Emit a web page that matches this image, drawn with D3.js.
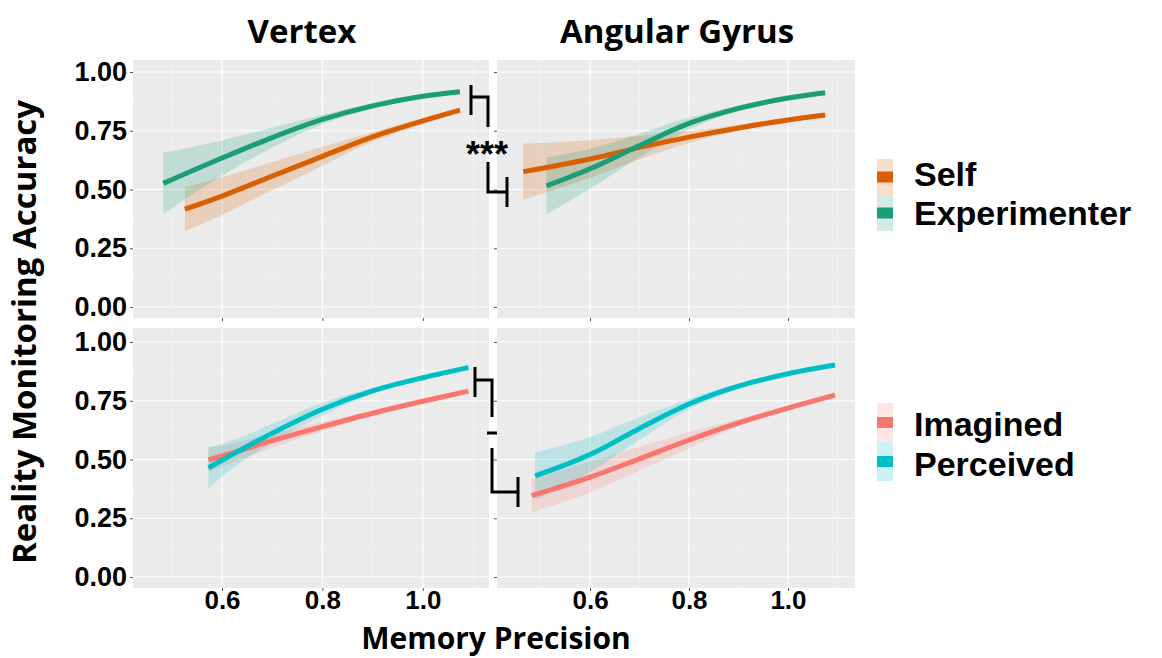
<!DOCTYPE html>
<html>
<head>
<meta charset="utf-8">
<script src="https://cdn.jsdelivr.net/npm/d3@7"></script>
<style>
  body { margin: 0; background: #fff; }
  svg { display: block; }
</style>
</head>
<body>
<div id="chart"></div>
<script>
// ---- data ----
const panelTitles = ["Vertex", "Angular Gyrus"];
const xTicks = [0.6, 0.8, 1.0];
const yTicks = [0, 0.25, 0.5, 0.75, 1.0];
const yTickLabels = ["0.00", "0.25", "0.50", "0.75", "1.00"];
const sourceLevels = ["Self", "Experimenter"];
const typeLevels = ["Imagined", "Perceived"];

// Vertex: Self vs Experimenter
const vSelfX = [0.526, 0.6, 0.7, 0.8, 0.9, 1.0, 1.074];
const vSelfY = [0.416, 0.472, 0.557, 0.641, 0.724, 0.792, 0.838];
const vSelfHalf = [0.094, 0.08, 0.06, 0.04, 0.02, 0.012, 0.01];
const vExpX = [0.483, 0.6, 0.7, 0.8, 0.9, 1.0, 1.074];
const vExpY = [0.526, 0.634, 0.721, 0.798, 0.856, 0.897, 0.916];
const vExpHalf = [0.13, 0.075, 0.042, 0.02, 0.012, 0.01, 0.01];

// Angular Gyrus: Self vs Experimenter
const agSelfX = [0.465, 0.6, 0.7, 0.8, 0.9, 1.0, 1.075];
const agSelfY = [0.576, 0.630, 0.679, 0.723, 0.762, 0.796, 0.817];
const agSelfHalf = [0.12, 0.08, 0.05, 0.025, 0.012, 0.01, 0.01];
const agExpX = [0.512, 0.6, 0.7, 0.8, 0.9, 1.0, 1.075];
const agExpY = [0.515, 0.588, 0.687, 0.781, 0.845, 0.889, 0.912];
const agExpHalf = [0.121, 0.085, 0.05, 0.025, 0.012, 0.01, 0.01];

// Vertex: Imagined vs Perceived
const vImgX = [0.573, 0.6, 0.7, 0.8, 0.9, 1.0, 1.091];
const vImgY = [0.498, 0.515, 0.580, 0.640, 0.697, 0.748, 0.791];
const vImgHalf = [0.053, 0.045, 0.03, 0.02, 0.01, 0.01, 0.01];
const vPerX = [0.573, 0.6, 0.7, 0.8, 0.9, 1.0, 1.091];
const vPerY = [0.465, 0.497, 0.612, 0.714, 0.792, 0.848, 0.891];
const vPerHalf = [0.088, 0.07, 0.04, 0.028, 0.012, 0.01, 0.01];

// Angular Gyrus: Imagined vs Perceived
const agImgX = [0.482, 0.6, 0.7, 0.8, 0.9, 1.0, 1.095];
const agImgY = [0.346, 0.425, 0.503, 0.583, 0.656, 0.719, 0.774];
const agImgHalf = [0.07, 0.065, 0.05, 0.035, 0.015, 0.01, 0.01];
const agPerX = [0.489, 0.6, 0.7, 0.8, 0.9, 1.0, 1.095];
const agPerY = [0.430, 0.521, 0.632, 0.736, 0.812, 0.865, 0.902];
const agPerHalf = [0.1, 0.075, 0.048, 0.022, 0.012, 0.01, 0.01];

const colSelf = "#d95f02", colExp = "#1b9e77";
const colImg = "#f8766d", colPer = "#00bfc4";

function series(xs, ys, half, color) {
  return { color, pts: xs.map((x, i) => ({ x, y: ys[i], lo: ys[i] - half[i], hi: ys[i] + half[i] })) };
}

const panels = [
  { row: 0, col: 0, series: [series(vSelfX, vSelfY, vSelfHalf, colSelf), series(vExpX, vExpY, vExpHalf, colExp)] },
  { row: 0, col: 1, series: [series(agSelfX, agSelfY, agSelfHalf, colSelf), series(agExpX, agExpY, agExpHalf, colExp)] },
  { row: 1, col: 0, series: [series(vImgX, vImgY, vImgHalf, colImg), series(vPerX, vPerY, vPerHalf, colPer)] },
  { row: 1, col: 1, series: [series(agImgX, agImgY, agImgHalf, colImg), series(agPerX, agPerY, agPerHalf, colPer)] }
];

// ---- layout ----
const W = 1162, H = 658;
const cols = [[133, 489], [497, 855]];
const rows = [[60, 318], [328, 588]];
const xDomains = [[0.4227, 1.1319], [0.412, 1.1354]];
const yDomains = [[-0.0468, 1.051], [-0.0468, 1.0596]];
const tickFont = "'Liberation Sans', Arial, sans-serif";
const titleFont = "'Open Sans', 'DejaVu Sans', sans-serif";

const svg = d3.select("#chart").append("svg")
  .attr("width", W).attr("height", H);

svg.append("rect").attr("width", W).attr("height", H).attr("fill", "#fff");

panels.forEach(p => {
  const [x0, x1] = cols[p.col];
  const [y0, y1] = rows[p.row];
  const x = d3.scaleLinear().domain(xDomains[p.col]).range([x0, x1]);
  const y = d3.scaleLinear().domain(yDomains[p.row]).range([y1, y0]);
  const g = svg.append("g");

  g.append("rect")
    .attr("x", x0).attr("y", y0)
    .attr("width", x1 - x0).attr("height", y1 - y0)
    .attr("fill", "#ebebeb");

  // minor grid
  const xMinor = [0.5, 0.7, 0.9, 1.1];
  const yMinor = [0.125, 0.375, 0.625, 0.875];
  g.selectAll(".xmin").data(xMinor).enter().append("line")
    .attr("x1", d => x(d)).attr("x2", d => x(d))
    .attr("y1", y0).attr("y2", y1)
    .attr("stroke", "#f5f5f5").attr("stroke-width", 0.6);
  g.selectAll(".ymin").data(yMinor).enter().append("line")
    .attr("x1", x0).attr("x2", x1)
    .attr("y1", d => y(d)).attr("y2", d => y(d))
    .attr("stroke", "#f5f5f5").attr("stroke-width", 0.6);
  // major grid
  g.selectAll(".xmaj").data(xTicks).enter().append("line")
    .attr("x1", d => x(d)).attr("x2", d => x(d))
    .attr("y1", y0).attr("y2", y1)
    .attr("stroke", "#fff").attr("stroke-width", 1.2);
  g.selectAll(".ymaj").data(yTicks).enter().append("line")
    .attr("x1", x0).attr("x2", x1)
    .attr("y1", d => y(d)).attr("y2", d => y(d))
    .attr("stroke", "#fff").attr("stroke-width", 1.2);

  // ribbons then lines
  const area = d3.area().curve(d3.curveMonotoneX)
    .x(d => x(d.x)).y0(d => y(d.lo)).y1(d => y(d.hi));
  const line = d3.line().curve(d3.curveMonotoneX)
    .x(d => x(d.x)).y(d => y(d.y));

  p.series.forEach(s => {
    g.append("path").datum(s.pts)
      .attr("d", area)
      .attr("fill", s.color).attr("fill-opacity", 0.2);
  });
  p.series.forEach(s => {
    g.append("path").datum(s.pts)
      .attr("d", line)
      .attr("fill", "none")
      .attr("stroke", s.color).attr("stroke-width", 5);
  });

  // axes: tick marks everywhere, labels on the outer panels only
  const yAxis = d3.axisLeft(y).tickValues(yTicks).tickSize(3)
    .tickFormat((d, i) => p.col === 0 ? yTickLabels[i] : "").tickPadding(3);
  const ya = svg.append("g").attr("transform", `translate(${x0},0)`).call(yAxis);
  ya.select(".domain").remove();
  ya.selectAll("line").attr("stroke", "#555");
  ya.selectAll("text")
    .attr("font-family", tickFont).attr("font-weight", "bold")
    .attr("font-size", 27).attr("fill", "#000");

  const xAxis = d3.axisBottom(x).tickValues(xTicks).tickSize(3)
    .tickFormat(d => p.row === 1 ? d3.format(".1f")(d) : "").tickPadding(0);
  const xa = svg.append("g").attr("transform", `translate(0,${y1})`).call(xAxis);
  xa.select(".domain").remove();
  xa.selectAll("line").attr("stroke", "#555");
  xa.selectAll("text")
    .attr("font-family", tickFont).attr("font-weight", "bold")
    .attr("font-size", 26).attr("fill", "#000");
});

// column titles
const titleCenters = [302, 677];
panelTitles.forEach((t, i) => {
  svg.append("text")
    .attr("x", titleCenters[i])
    .attr("y", 43)
    .attr("text-anchor", "middle")
    .attr("font-family", titleFont).attr("font-weight", "bold")
    .attr("font-size", 33).attr("fill", "#000")
    .text(t);
});

// axis titles
svg.append("text")
  .attr("x", 496).attr("y", 649)
  .attr("text-anchor", "middle")
  .attr("font-family", titleFont).attr("font-weight", "bold")
  .attr("font-size", 30).attr("fill", "#000")
  .text("Memory Precision");

svg.append("text")
  .attr("transform", "translate(36,332) rotate(-90)")
  .attr("text-anchor", "middle")
  .attr("font-family", titleFont).attr("font-weight", "bold")
  .attr("font-size", 33).attr("fill", "#000")
  .text("Reality Monitoring Accuracy");

// legends
function legend(levels, colors, top, step, textY) {
  const g = svg.append("g");
  levels.forEach((lab, i) => {
    const ky = top + i * step;
    g.append("rect").attr("x", 877).attr("y", ky).attr("width", 16).attr("height", step)
      .attr("fill", colors[i]).attr("fill-opacity", 0.2);
    g.append("rect").attr("x", 877).attr("y", ky + step / 2 - 5.5).attr("width", 16).attr("height", 11)
      .attr("fill", colors[i]);
    g.append("text")
      .attr("x", 914).attr("y", textY[i]).attr("dy", "0.36em")
      .attr("font-family", tickFont).attr("font-weight", "bold")
      .attr("font-size", 34).attr("fill", "#000")
      .text(lab);
  });
}
legend(sourceLevels, [colSelf, colExp], 159, 36, [174, 213]);
legend(typeLevels, [colImg, colPer], 403, 39, [424, 464]);

// significance brackets
function bracket(pts) {
  svg.append("path")
    .attr("d", d3.line()(pts))
    .attr("fill", "none").attr("stroke", "#000").attr("stroke-width", 3);
}
// top row
bracket([[471, 85], [471, 115]]);
bracket([[471, 97], [488, 97], [488, 127]]);
bracket([[488, 162], [488, 192], [507, 192]]);
bracket([[507, 177], [507, 207]]);
svg.append("text")
  .attr("x", 487).attr("y", 167)
  .attr("text-anchor", "middle")
  .attr("font-family", tickFont).attr("font-weight", "bold")
  .attr("font-size", 36).attr("fill", "#000")
  .text("***");
// bottom row
bracket([[475, 367], [475, 397]]);
bracket([[475, 380], [492, 380], [492, 417]]);
bracket([[487, 433], [497, 433]]);
bracket([[492, 448], [492, 492], [518, 492]]);
bracket([[518, 477], [518, 507]]);
</script>
</body>
</html>
